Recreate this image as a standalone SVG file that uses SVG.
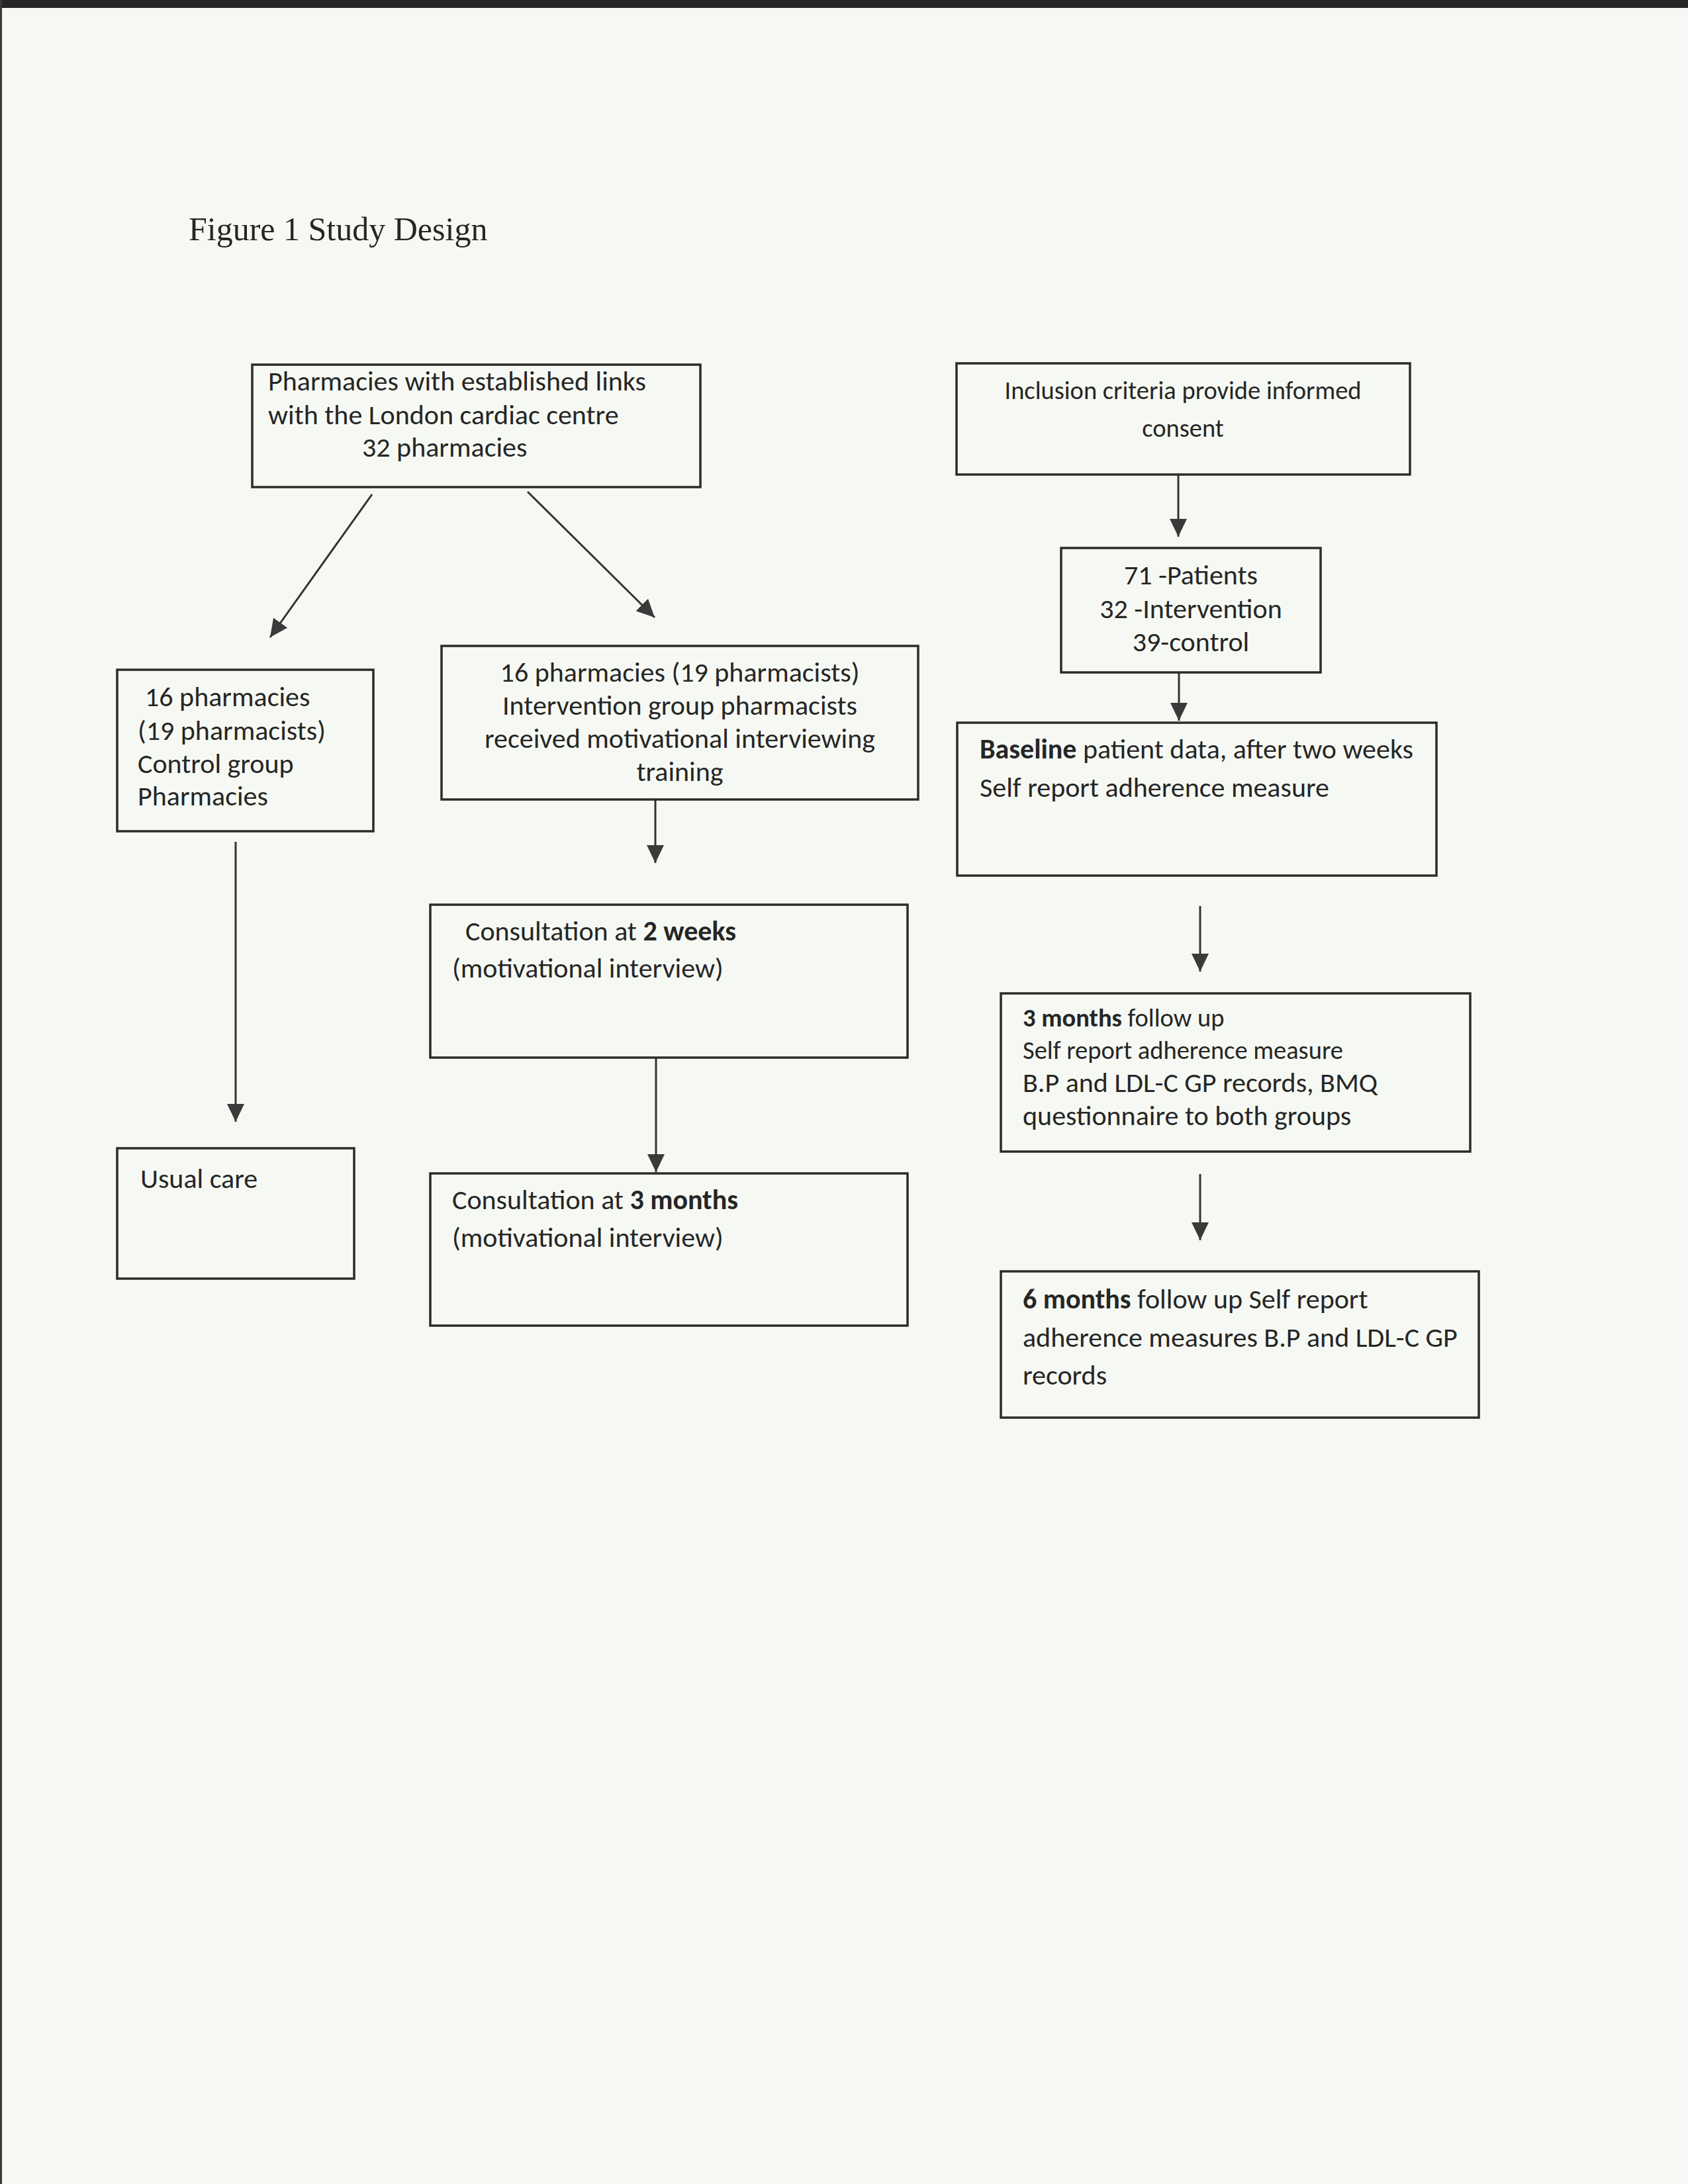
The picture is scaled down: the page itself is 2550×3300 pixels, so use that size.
<svg xmlns="http://www.w3.org/2000/svg" width="2550" height="3300" viewBox="0 0 2550 3300">
<defs>
<marker id="ah" markerUnits="userSpaceOnUse" markerWidth="28" markerHeight="28" viewBox="0 0 28 28" refX="27" refY="14" orient="auto">
<path d="M0,1 L27,14 L0,27 Z" fill="#3a3a3a"/>
</marker>
</defs>
<style>
.box{fill:none;stroke:#2b2b2b;stroke-width:3.5}
.t{font-family:Carlito,Lato,"Liberation Sans",sans-serif;font-size:42px;fill:#262626}
.s{font-size:38.5px}
.b{font-weight:bold}
.c{text-anchor:middle}
.ln{stroke:#333;stroke-width:3;fill:none;marker-end:url(#ah)}
</style>
<rect x="0" y="0" width="2550" height="3300" fill="#f6f9f3"/>
<rect x="0" y="0" width="2550" height="12" fill="#262626"/>
<rect x="0" y="0" width="3" height="3300" fill="#3a3a3a"/>
<text x="285" y="363" font-family="'Liberation Serif','Times New Roman',serif" font-size="50" fill="#262626">Figure 1 Study Design</text>
<g id="connectors">
<line class="ln" x1="562" y1="747" x2="408" y2="963"/>
<line class="ln" x1="797" y1="743" x2="989" y2="933"/>
<line class="ln" x1="990" y1="1208" x2="990" y2="1304"/>
<line class="ln" x1="356" y1="1272" x2="356" y2="1695"/>
<line class="ln" x1="991" y1="1598" x2="991" y2="1771"/>
<line class="ln" x1="1780" y1="718" x2="1780" y2="811"/>
<line class="ln" x1="1781" y1="1016" x2="1781" y2="1089"/>
<line class="ln" x1="1813" y1="1369" x2="1813" y2="1468"/>
<line class="ln" x1="1813" y1="1774" x2="1813" y2="1874"/>
</g>
<g id="node-pharmacies">
<rect class="box" x="381" y="551" width="677" height="185"/>
<text class="t" x="405" y="590">Pharmacies with established links</text>
<text class="t" x="405" y="641">with the London cardiac centre</text>
<text class="t" x="547" y="690">32 pharmacies</text>
</g>
<g id="node-control">
<rect class="box" x="177" y="1012" width="387" height="244"/>
<text class="t" x="219" y="1067">16 pharmacies</text>
<text class="t" x="208" y="1118">(19 pharmacists)</text>
<text class="t" x="208" y="1168">Control group</text>
<text class="t" x="208" y="1217">Pharmacies</text>
</g>
<g id="node-intervention">
<rect class="box" x="667" y="976" width="720" height="232"/>
<text class="t c" x="1027" y="1030">16 pharmacies (19 pharmacists)</text>
<text class="t c" x="1027" y="1080">Intervention group pharmacists</text>
<text class="t c" x="1027" y="1130">received motivational interviewing</text>
<text class="t c" x="1027" y="1180">training</text>
</g>
<g id="node-consult-2w">
<rect class="box" x="650" y="1367" width="721" height="231"/>
<text class="t" x="703" y="1421">Consultation at <tspan class="b">2 weeks</tspan></text>
<text class="t" x="683" y="1477">(motivational interview)</text>
</g>
<g id="node-usual-care">
<rect class="box" x="177" y="1735" width="358" height="197"/>
<text class="t" x="212" y="1795">Usual care</text>
</g>
<g id="node-consult-3m">
<rect class="box" x="650" y="1773" width="721" height="230"/>
<text class="t" x="683" y="1827">Consultation at <tspan class="b">3 months</tspan></text>
<text class="t" x="683" y="1884">(motivational interview)</text>
</g>
<g id="node-inclusion">
<rect class="box" x="1445" y="549" width="685" height="168"/>
<text class="t s c" x="1787" y="603">Inclusion criteria provide informed</text>
<text class="t s c" x="1787" y="660">consent</text>
</g>
<g id="node-patients">
<rect class="box" x="1603" y="828" width="392" height="188"/>
<text class="t c" x="1799" y="883">71 -Patients</text>
<text class="t c" x="1799" y="934">32 -Intervention</text>
<text class="t c" x="1799" y="984">39-control</text>
</g>
<g id="node-baseline">
<rect class="box" x="1446" y="1092" width="724" height="231"/>
<text class="t" x="1480" y="1146"><tspan class="b">Baseline</tspan> patient data, after two weeks</text>
<text class="t" x="1480" y="1204">Self report adherence measure</text>
</g>
<g id="node-3months">
<rect class="box" x="1512" y="1501" width="709" height="239"/>
<text class="t s" x="1545" y="1551"><tspan class="b">3 months</tspan> follow up</text>
<text class="t s" x="1545" y="1600">Self report adherence measure</text>
<text class="t" x="1545" y="1650">B.P and LDL-C GP records, BMQ</text>
<text class="t" x="1545" y="1700">questionnaire to both groups</text>
</g>
<g id="node-6months">
<rect class="box" x="1512" y="1921" width="722" height="221"/>
<text class="t" x="1545" y="1977"><tspan class="b">6 months</tspan> follow up Self report</text>
<text class="t" x="1545" y="2035">adherence measures B.P and LDL-C GP</text>
<text class="t" x="1545" y="2092">records</text>
</g>
</svg>
